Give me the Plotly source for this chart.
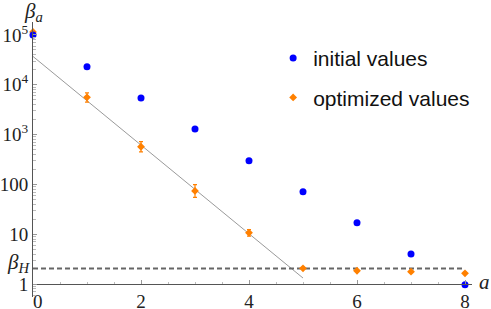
import plotly.graph_objects as go

a_vals = [0, 1, 2, 3, 4, 5, 6, 7, 8]
initial_values = [1.0e5, 2.3e4, 5400, 1300, 300, 71, 17, 4.0, 0.97]
optimized_values = [1.15e5, 5600, 570, 74, 10.7, 2.07, 1.85, 1.77, 1.64]
optimized_err_up = [0, 1300, 150, 25, 1.7, 0.1, 0.08, 0.08, 0.08]
optimized_err_dn = [0, 1100, 120, 19, 1.5, 0.1, 0.08, 0.08, 0.08]
fit_a = [0, 5]
fit_vals = [3.7e4, 1.32]
beta_H = 2.06
y_tickvals = [1, 10, 100, 1e3, 1e4, 1e5]
y_ticktext = ["1", "10", "100", "10<sup>3</sup>", "10<sup>4</sup>", "10<sup>5</sup>"]
x_tickvals = [0, 2, 4, 6, 8]
x_ticktext = ["\u20070", "2", "4", "6", "8"]

W, H = 491, 309
ml, mr, mt, mb = 33, 19, 22, 12
xr = [0, (472 - 33) / 54]
yr = [-0.26, 5.26]
plot_h = H - mt - mb

serif = "Liberation Serif, Times New Roman, DejaVu Serif, serif"
sans = "Liberation Sans, Arial, sans-serif"

fig = go.Figure()
fig.add_trace(go.Scatter(x=fit_a, y=fit_vals, mode="lines",
                         line=dict(color="#9a9a9a", width=1), showlegend=False,
                         cliponaxis=False))
fig.add_trace(go.Scatter(x=[0, 8], y=[beta_H, beta_H], mode="lines",
                         line=dict(color="#666666", width=2, dash="5px,3px"),
                         showlegend=False, cliponaxis=False))
fig.add_trace(go.Scatter(x=a_vals, y=optimized_values, mode="markers",
                         name="optimized values", legendgroup="b", legendrank=2,
                         marker=dict(color="#FF8000", size=6, symbol="diamond"),
                         error_y=dict(type="data", array=optimized_err_up,
                                      arrayminus=optimized_err_dn,
                                      color="#FF8000", thickness=1.2, width=2),
                         cliponaxis=False))
fig.add_trace(go.Scatter(x=a_vals, y=initial_values, mode="markers",
                         name="initial values", legendgroup="a", legendrank=1,
                         marker=dict(color="#0000FF", size=7),
                         cliponaxis=False))

fig.update_layout(
    width=W, height=H,
    margin=dict(l=ml, r=mr, t=mt, b=mb, autoexpand=False),
    plot_bgcolor="white", paper_bgcolor="white",
    font=dict(family=serif, size=18, color="#222"),
    legend=dict(x=0.547, y=0.942, xanchor="left", yanchor="top",
                traceorder="grouped", tracegroupgap=9,
                font=dict(family=sans, size=21, color="#111"),
                bgcolor="rgba(0,0,0,0)", itemwidth=30),
    xaxis=dict(range=xr, showgrid=False, zeroline=False, showline=True,
               linecolor="#555", linewidth=1, automargin=False,
               anchor="free", position=(297 - 284) / plot_h,
               tickvals=x_tickvals, ticktext=x_ticktext,
               ticks="inside", ticklen=4, tickcolor="#999",
               minor=dict(ticks="inside", ticklen=2.5, tickcolor="#bbb", dtick=0.5),
               tickfont=dict(family=serif, size=19)),
    yaxis=dict(type="log", range=yr, showgrid=False, zeroline=False,
               showline=True, linecolor="#555", linewidth=1, automargin=False,
               tickvals=y_tickvals, ticktext=y_ticktext,
               ticks="inside", ticklen=4, tickcolor="#999",
               minor=dict(ticks="inside", ticklen=2.5, tickcolor="#bbb", dtick="D1"),
               tickfont=dict(family=serif, size=19)),
    annotations=[
        dict(text="<i>β</i><sub><i>a</i></sub>", xref="x", x=0, yref="paper", y=1,
             xanchor="center", yanchor="middle", yshift=10, showarrow=False,
             font=dict(family=serif, size=21, color="#222")),
        dict(text="<i>β</i><sub><i>H</i></sub>", xref="x", x=0, yref="y", y=0.42,
             xanchor="right", yanchor="middle", xshift=-1, showarrow=False,
             font=dict(family=serif, size=21, color="#222")),
        dict(text="<i>a</i>", xref="paper", x=1, yref="y", y=0.05,
             xanchor="left", yanchor="middle", xshift=5, showarrow=False,
             font=dict(family=serif, size=21, color="#222")),
    ],
)

fig.write_html("out.html", config={"displayModeBar": False},
               post_script="document.body.style.margin='0';")
